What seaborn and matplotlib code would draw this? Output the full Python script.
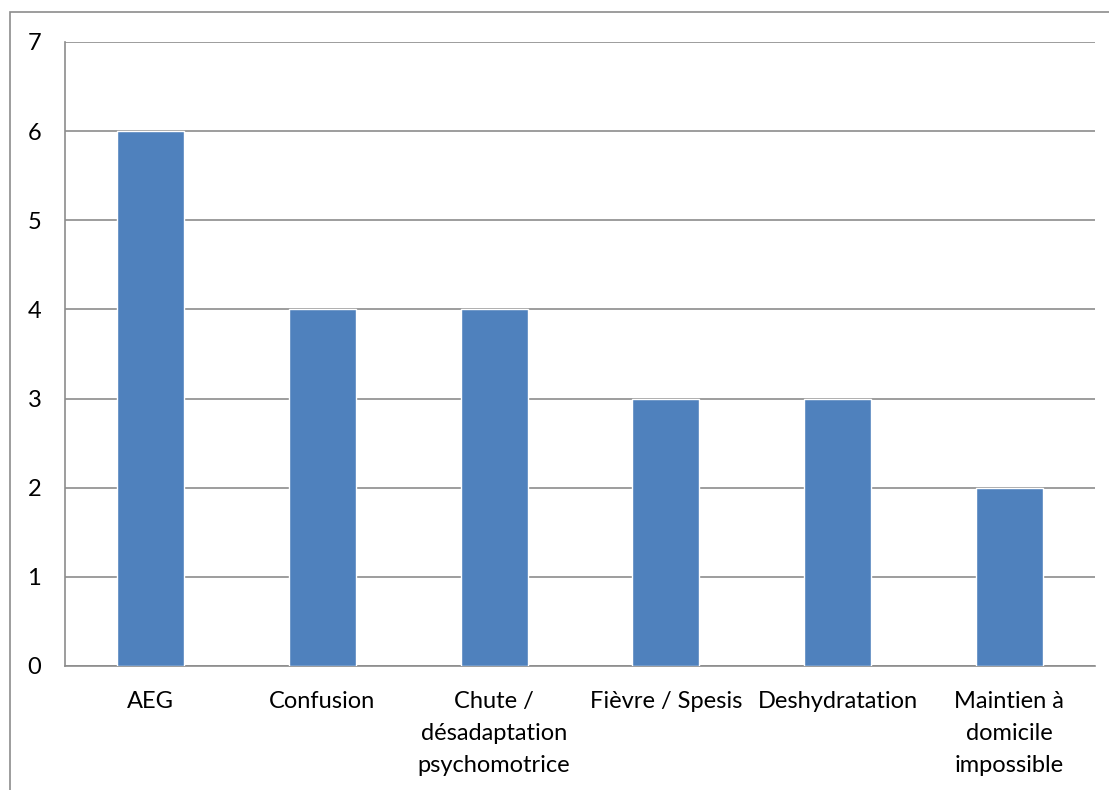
import matplotlib
matplotlib.use("Agg")
import matplotlib.pyplot as plt
import seaborn as sns
import pandas as pd
from matplotlib.patches import Rectangle

categories = ["AEG", "Confusion", "Chute /\ndésadaptation\npsychomotrice",
              "Fièvre / Spesis", "Deshydratation", "Maintien à\ndomicile\nimpossible"]
values = [6, 4, 4, 3, 3, 2]
yticks = [0, 1, 2, 3, 4, 5, 6, 7]

sns.set_theme(style="white")
plt.rcParams['font.family'] = ['Lato', 'DejaVu Sans']

df = pd.DataFrame({"cat": categories, "val": values})

fig = plt.figure(figsize=(11.09, 7.9), dpi=100)
ax = fig.add_axes([65/1109, 1-666/790, (1095-65)/1109, (666-42)/790])

sns.barplot(data=df, x="cat", y="val", color="#4F81BD", saturation=1,
            width=0.39, ax=ax, zorder=3)

ax.set_ylim(0, 7)
ax.set_yticks(yticks)
ax.set_yticklabels([str(t) for t in yticks], fontsize=17, ha="left")
ax.yaxis.grid(True, color="#8C8C8C", linewidth=1.2, zorder=0)
ax.set_axisbelow(True)
ax.tick_params(axis="y", length=0, pad=27, labelcolor="black")
ax.tick_params(axis="x", length=0, pad=18, labelsize=17, labelcolor="black")
for lbl in ax.get_xticklabels():
    lbl.set_linespacing(1.66)
    lbl.set_verticalalignment("top")
ax.set_xlabel("")
ax.set_ylabel("")
for s in ["top", "right"]:
    ax.spines[s].set_visible(False)
for s in ["left", "bottom"]:
    ax.spines[s].set_color("#8C8C8C")
    ax.spines[s].set_linewidth(1.2)

# outer chart frame (left and top edges visible)
frame = Rectangle((10/1109, -0.05), 1.2, (1-12/790) + 0.05, transform=fig.transFigure,
                  fill=False, edgecolor="#8C8C8C", linewidth=1.2)
fig.patches.append(frame)

fig.savefig("out.png", dpi=100)
